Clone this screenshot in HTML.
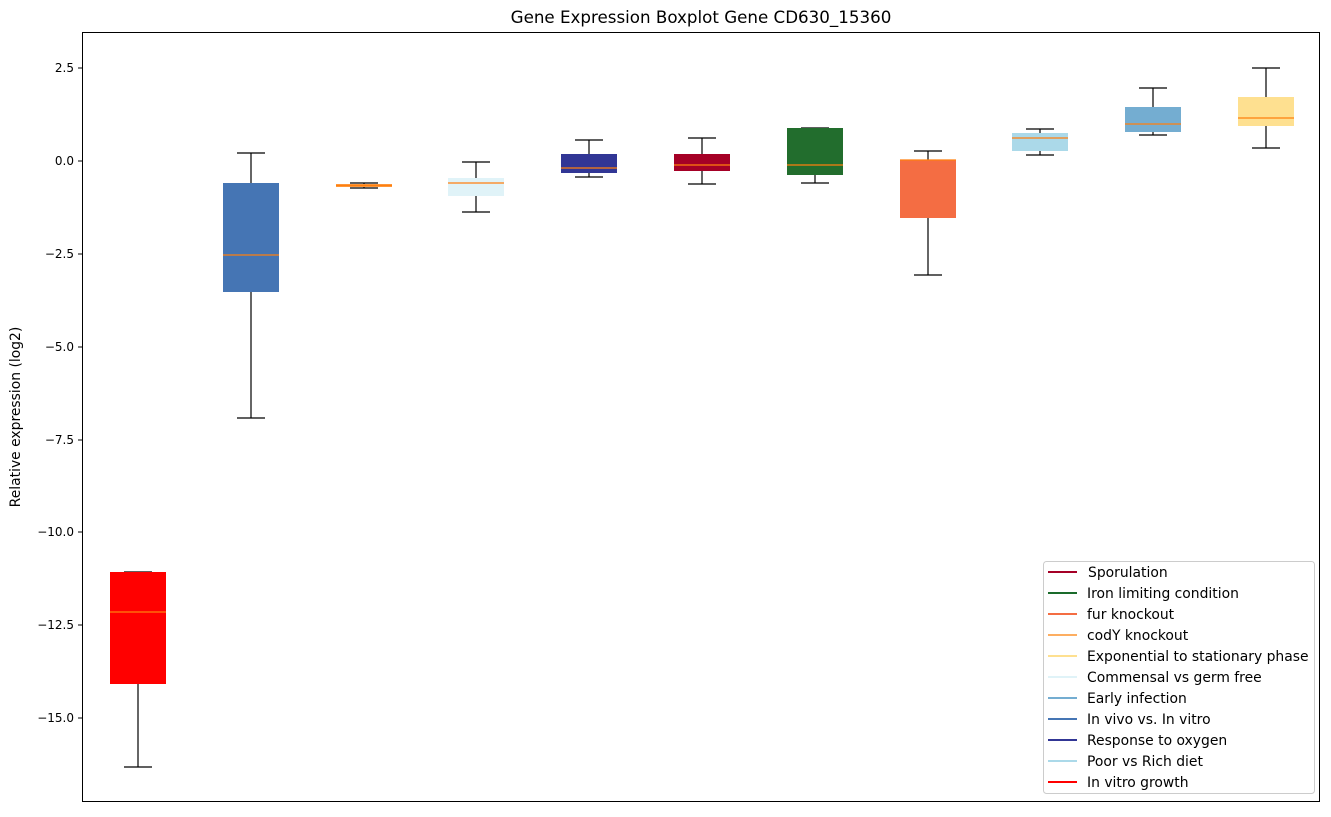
<!DOCTYPE html>
<html><head><meta charset="utf-8"><style>
body{margin:0;background:#fff;}
svg text{font-family:"DejaVu Sans","Liberation Sans",sans-serif;}
</style></head><body>
<svg width="1331" height="812" viewBox="0 0 1331 812" xmlns="http://www.w3.org/2000/svg">
<rect width="1331" height="812" fill="#fff"/>
<text x="701" y="23" font-size="16.7" text-anchor="middle" fill="#000">Gene Expression Boxplot Gene CD630_15360</text>
<g stroke="#000" stroke-width="1" fill="none">
<line x1="82.5" y1="68" x2="78" y2="68"/><line x1="82.5" y1="161" x2="78" y2="161"/>
<line x1="82.5" y1="254" x2="78" y2="254"/><line x1="82.5" y1="347" x2="78" y2="347"/>
<line x1="82.5" y1="440" x2="78" y2="440"/><line x1="82.5" y1="532" x2="78" y2="532"/>
<line x1="82.5" y1="625" x2="78" y2="625"/><line x1="82.5" y1="718" x2="78" y2="718"/>
</g>
<g font-size="12" text-anchor="end" fill="#000">
<text x="74" y="72">2.5</text><text x="74" y="165">0.0</text><text x="74" y="258">−2.5</text>
<text x="74" y="351">−5.0</text><text x="74" y="444">−7.5</text><text x="74" y="536">−10.0</text>
<text x="74" y="629">−12.5</text><text x="74" y="722">−15.0</text>
</g>
<text transform="translate(20,417) rotate(-90)" font-size="13.9" text-anchor="middle">Relative expression (log2)</text>

<g stroke="#000" stroke-width="1.2">
<line x1="138" y1="572" x2="138" y2="767"/><line x1="124" y1="572" x2="152" y2="572"/><line x1="124" y1="767" x2="152" y2="767"/>
<line x1="251" y1="153" x2="251" y2="418"/><line x1="237" y1="153" x2="265" y2="153"/><line x1="237" y1="418" x2="265" y2="418"/>
<line x1="364" y1="183" x2="364" y2="188"/><line x1="350" y1="183" x2="378" y2="183"/><line x1="350" y1="188" x2="378" y2="188"/>
<line x1="476" y1="162" x2="476" y2="212"/><line x1="462" y1="162" x2="490" y2="162"/><line x1="462" y1="212" x2="490" y2="212"/>
<line x1="589" y1="140" x2="589" y2="177"/><line x1="575" y1="140" x2="603" y2="140"/><line x1="575" y1="177" x2="603" y2="177"/>
<line x1="702" y1="138" x2="702" y2="184"/><line x1="688" y1="138" x2="716" y2="138"/><line x1="688" y1="184" x2="716" y2="184"/>
<line x1="815" y1="128" x2="815" y2="183"/><line x1="801" y1="128" x2="829" y2="128"/><line x1="801" y1="183" x2="829" y2="183"/>
<line x1="928" y1="151" x2="928" y2="275"/><line x1="914" y1="151" x2="942" y2="151"/><line x1="914" y1="275" x2="942" y2="275"/>
<line x1="1040" y1="129" x2="1040" y2="155"/><line x1="1026" y1="129" x2="1054" y2="129"/><line x1="1026" y1="155" x2="1054" y2="155"/>
<line x1="1153" y1="88" x2="1153" y2="135"/><line x1="1139" y1="88" x2="1167" y2="88"/><line x1="1139" y1="135" x2="1167" y2="135"/>
<line x1="1266" y1="68" x2="1266" y2="148"/><line x1="1252" y1="68" x2="1280" y2="68"/><line x1="1252" y1="148" x2="1280" y2="148"/>
</g>
<g>
<rect x="110" y="572" width="56" height="112" fill="#ff0000"/>
<rect x="223" y="183" width="56" height="109" fill="#4575b4"/>
<rect x="336" y="184" width="56" height="3" fill="#fdae61"/>
<rect x="448" y="178" width="56" height="18" fill="#e0f3f8"/>
<rect x="561" y="154" width="56" height="19" fill="#313695"/>
<rect x="674" y="154" width="56" height="17" fill="#a50026"/>
<rect x="787" y="128" width="56" height="47" fill="#226d2d"/>
<rect x="900" y="160" width="56" height="58" fill="#f46d43"/>
<rect x="1012" y="133" width="56" height="18" fill="#abd9e9"/>
<rect x="1125" y="107" width="56" height="25" fill="#74add1"/>
<rect x="1238" y="97" width="56" height="29" fill="#fee090"/>
</g>
<g stroke="#ff7f0e" stroke-width="1.2">
<line x1="110" y1="612" x2="166" y2="612"/>
<line x1="223" y1="255" x2="279" y2="255"/>
<line x1="336" y1="185.5" x2="392" y2="185.5" stroke-width="2"/>
<line x1="448" y1="183" x2="504" y2="183"/>
<line x1="561" y1="168" x2="617" y2="168"/>
<line x1="674" y1="165" x2="730" y2="165"/>
<line x1="787" y1="165" x2="843" y2="165"/>
<line x1="900" y1="160" x2="956" y2="160"/>
<line x1="1012" y1="138" x2="1068" y2="138"/>
<line x1="1125" y1="124" x2="1181" y2="124"/>
<line x1="1238" y1="118" x2="1294" y2="118"/>
</g>
<rect x="82.5" y="32.5" width="1237" height="769" fill="none" stroke="#000" stroke-width="1"/>

<rect x="1043.5" y="561.5" width="271" height="232" rx="3" fill="#fff" fill-opacity="0.8" stroke="#ccc"/>
<g stroke-width="2">
<line x1="1048" y1="572" x2="1077" y2="572" stroke="#a50026"/>
<line x1="1048" y1="593" x2="1077" y2="593" stroke="#1a6b2b"/>
<line x1="1048" y1="614" x2="1077" y2="614" stroke="#f46d43"/>
<line x1="1048" y1="635" x2="1077" y2="635" stroke="#fdae61"/>
<line x1="1048" y1="656" x2="1077" y2="656" stroke="#fee090"/>
<line x1="1048" y1="677" x2="1077" y2="677" stroke="#e0f3f8"/>
<line x1="1048" y1="698" x2="1077" y2="698" stroke="#74add1"/>
<line x1="1048" y1="719" x2="1077" y2="719" stroke="#4575b4"/>
<line x1="1048" y1="740" x2="1077" y2="740" stroke="#313695"/>
<line x1="1048" y1="761" x2="1077" y2="761" stroke="#abd9e9"/>
<line x1="1048" y1="782" x2="1077" y2="782" stroke="#ff0000"/>
</g>
<g font-size="13.9" fill="#000">
<text x="1088" y="577">Sporulation</text>
<text x="1087" y="598">Iron limiting condition</text>
<text x="1087" y="619">fur knockout</text>
<text x="1087" y="640">codY knockout</text>
<text x="1087" y="661">Exponential to stationary phase</text>
<text x="1087" y="682">Commensal vs germ free</text>
<text x="1087" y="703">Early infection</text>
<text x="1087" y="724">In vivo vs. In vitro</text>
<text x="1087" y="745">Response to oxygen</text>
<text x="1087" y="766">Poor vs Rich diet</text>
<text x="1087" y="787">In vitro growth</text>
</g>
</svg>
</body></html>
